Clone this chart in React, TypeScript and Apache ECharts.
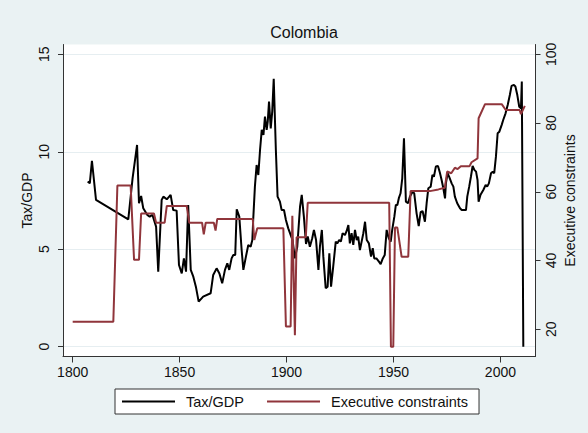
import React, { useEffect, useRef } from "react";
import * as echarts from "echarts";

const taxYears = [
  1807.0, 1808.0, 1809.0, 1810.9, 1826.0, 1828.0, 1830.1, 1831.0, 1832.0, 1833.0,
  1834.9, 1836.0, 1837.3, 1839.0, 1840.0, 1841.6, 1842.4, 1844.0, 1845.8, 1847.0,
  1848.6, 1849.7, 1851.0, 1852.0, 1853.0, 1854.0, 1855.2, 1856.4, 1857.6, 1858.9,
  1861.0, 1864.5, 1865.7, 1867.3, 1868.6, 1869.9, 1871.2, 1872.3, 1873.2, 1874.3,
  1875.1, 1876.0, 1876.7, 1877.9, 1879.0, 1879.8, 1881.0, 1882.1, 1883.2, 1884.0,
  1884.4, 1885.2, 1886.0, 1886.8, 1887.6, 1888.4, 1889.2, 1889.9, 1890.7, 1891.2,
  1891.8, 1892.6, 1893.3, 1894.0, 1895.0, 1895.8, 1896.9, 1897.7, 1898.8, 1899.7,
  1900.8, 1902.8, 1903.9, 1905.0, 1906.3, 1907.1, 1908.1, 1909.1, 1909.9, 1910.9,
  1912.0, 1912.8, 1913.8, 1914.9, 1915.6, 1916.5, 1917.2, 1918.3, 1919.2, 1920.0,
  1920.8, 1921.8, 1923.0, 1923.7, 1924.6, 1925.4, 1926.2, 1927.3, 1928.1, 1928.9,
  1929.6, 1930.4, 1931.2, 1932.0, 1932.8, 1933.5, 1934.3, 1935.1, 1935.9, 1936.7,
  1937.5, 1938.5, 1939.5, 1940.3, 1941.0, 1942.0, 1943.2, 1944.0, 1945.0, 1945.9,
  1946.8, 1947.8, 1948.7, 1949.4, 1950.4, 1951.1, 1951.8, 1952.5, 1953.3, 1954.1,
  1954.9, 1955.8, 1956.8, 1957.7, 1959.0, 1959.7, 1960.8, 1961.8, 1962.7, 1963.6,
  1964.7, 1965.5, 1966.3, 1967.4, 1968.2, 1968.9, 1969.8, 1970.8, 1971.7, 1972.5,
  1973.3, 1974.1, 1974.5, 1975.3, 1976.0, 1977.2, 1978.0, 1978.7, 1979.8, 1981.1,
  1981.9, 1983.0, 1983.9, 1984.5, 1985.4, 1986.2, 1987.0, 1987.8, 1988.6, 1989.3,
  1989.8, 1990.7, 1992.0, 1993.1, 1993.8, 1994.6, 1995.6, 1996.4, 1997.1, 1997.9,
  1998.7, 1999.5, 2000.6, 2001.3, 2002.4, 2003.4, 2004.4, 2005.2, 2006.3, 2007.0,
  2007.9, 2008.8, 2009.6, 2010.0, 2010.7,
];

const taxValues = [
  8.47, 8.38, 9.54, 7.53, 6.53, 8.64, 10.35, 7.36, 7.73, 7.1,
  6.76, 6.67, 6.76, 6.16, 3.85, 7.53, 7.7, 7.56, 7.79, 7.01,
  6.98, 4.19, 3.76, 4.53, 3.85, 7.27, 3.94, 3.59, 3.08, 2.31,
  2.57, 2.74, 3.68, 4.02, 3.76, 3.25, 3.94, 4.28, 3.94, 4.53,
  4.7, 4.7, 7.05, 6.67, 4.96, 3.94, 4.62, 5.22, 5.13, 5.47,
  6.5, 8.21, 9.32, 8.81, 10.09, 11.12, 10.86, 11.8, 11.12, 11.55,
  12.57, 11.2, 12.06, 13.74, 10.09, 7.7, 7.44, 7.01, 7.01, 6.5,
  6.07, 5.47, 4.53, 5.13, 7.18, 7.79, 6.67, 5.27, 5.65, 5.13,
  5.56, 5.99, 5.47, 3.94, 5.13, 5.99, 4.62, 3.0, 3.08, 4.79,
  3.08, 4.1, 5.39, 5.3, 5.47, 5.39, 5.82, 5.73, 5.94, 6.24,
  5.3, 5.82, 5.22, 5.99, 5.47, 5.65, 4.96, 5.39, 5.82, 6.41,
  5.47, 5.3, 4.62, 5.05, 4.53, 4.53, 4.36, 4.24, 4.53, 4.7,
  5.99, 5.56, 5.39, 5.99, 6.67, 7.27, 7.27, 7.62, 7.87, 8.64,
  10.69, 7.44, 7.36, 7.7, 7.96, 7.87, 6.84, 6.19, 6.9, 6.96,
  6.41, 7.36, 8.13, 8.21, 8.81, 8.72, 9.24, 9.27, 8.92, 8.55,
  8.13, 7.61, 8.38, 8.9, 8.72, 8.38, 8.21, 7.7, 7.36, 7.1,
  7.01, 7.01, 7.01, 7.7, 8.21, 8.72, 9.27, 9.07, 8.98, 8.55,
  7.44, 7.79, 8.04, 8.3, 8.21, 8.38, 8.9, 8.98, 8.9, 9.75,
  10.95, 11.03, 11.38, 11.63, 11.97, 12.4, 12.91, 13.38, 13.43, 13.35,
  12.91, 12.31, 12.23, 13.6, 0.0,
];

const xconstYears = [
  1800.0, 1819.0, 1820.9, 1827.1, 1828.7, 1831.0, 1832.0, 1838.0, 1839.0, 1843.0,
  1844.0, 1853.3, 1854.5, 1860.5, 1861.3, 1862.2, 1866.0, 1866.8, 1867.6, 1884.2,
  1884.9, 1886.3, 1898.5, 1899.7, 1901.9, 1902.7, 1903.9, 1904.7, 1909.0, 1909.9,
  1948.0, 1948.8, 1949.9, 1950.7, 1951.8, 1953.8, 1956.9, 1958.0, 1967.0, 1971.0,
  1974.0, 1975.1, 1977.0, 1978.7, 1980.0, 1981.5, 1985.5, 1986.5, 1989.3, 1989.8,
  1992.8, 2000.6, 2002.5, 2009.0, 2009.6, 2011.4,
];

const xconstValues = [
  22.2, 22.2, 61.8, 61.8, 40.2, 40.2, 53.7, 53.7, 51.0, 51.0,
  55.9, 55.9, 51.0, 51.0, 47.6, 51.0, 51.0, 48.7, 52.1, 52.1,
  46.0, 49.4, 49.4, 20.8, 20.8, 53.0, 18.3, 46.8, 46.8, 56.8,
  56.8, 14.9, 14.9, 49.6, 49.6, 41.1, 41.1, 60.2, 60.2, 60.7,
  61.2, 65.9, 65.4, 67.0, 66.6, 67.4, 67.4, 68.6, 69.7, 81.4,
  85.5, 85.5, 83.8, 83.8, 82.6, 85.0,
];

const yearTicks = [1800, 1850, 1900, 1950, 2000];
const taxTicks = [0, 5, 10, 15];
const xconstTicks = [20, 40, 60, 80, 100];

const FONT = "Liberation Sans, Arial, Helvetica, sans-serif";

export default function App() {
  const ref = useRef<HTMLDivElement>(null);

  useEffect(() => {
    if (!ref.current) return;
    const chart = echarts.init(ref.current, undefined, { renderer: "svg" });
    const taxData = taxYears.map((y, i) => [y, taxValues[i]]);
    const xconstData = xconstYears.map((y, i) => [y, xconstValues[i]]);
    const axisColor = "#333";
    chart.setOption({
      animation: false,
      backgroundColor: "#eaf2f3",
      textStyle: { fontFamily: FONT },
      title: {
        text: "Colombia",
        left: 299,
        textAlign: "center",
        top: 19,
        textStyle: { fontFamily: FONT, fontSize: 16, fontWeight: "normal", color: "#111" },
      },
      grid: {
        left: 63,
        right: 52.5,
        top: 44.5,
        bottom: 76.5,
        show: true,
        backgroundColor: "#fff",
        borderWidth: 0,
      },
      legend: {
        left: 115,
        top: 389,
        icon: "rect",
        itemWidth: 53,
        itemHeight: 2,
        itemGap: 23,
        padding: [5, 11, 5, 7],
        backgroundColor: "#fff",
        borderColor: "#333",
        borderWidth: 1,
        borderRadius: 0,
        textStyle: { fontFamily: FONT, fontSize: 14.5, color: "#111", padding: [0, 0, 0, 6] },
        data: ["Tax/GDP", "Executive constraints"],
      },
      xAxis: {
        type: "value",
        min: 1795.47,
        max: 2016.4,
        axisLine: { show: true, onZero: false, lineStyle: { color: axisColor, width: 1 } },
        axisTick: { show: true, length: 6, customValues: yearTicks, lineStyle: { color: axisColor } },
        axisLabel: {
          customValues: yearTicks,
          formatter: (v: number) => String(v),
          fontSize: 14,
          color: "#111",
          margin: 8,
          fontFamily: FONT,
        },
        splitLine: { show: false },
      },
      yAxis: [
        {
          type: "value",
          min: -0.503,
          max: 15.503,
          name: "Tax/GDP",
          nameLocation: "middle",
          nameGap: 36,
          nameMoveOverlap: false,
          nameRotate: 90,
          nameTextStyle: { fontFamily: FONT, fontSize: 14, color: "#111", verticalAlign: "middle" },
          axisLine: { show: true, lineStyle: { color: axisColor, width: 1 } },
          axisTick: { show: true, length: 5, customValues: taxTicks, lineStyle: { color: axisColor } },
          axisLabel: { customValues: taxTicks, rotate: 90, fontSize: 14, color: "#111", margin: 12, fontFamily: FONT },
          splitLine: { show: true, lineStyle: { color: "#e6eef1", width: 1 } },
        },
        {
          type: "value",
          min: 12.09,
          max: 102.85,
          position: "right",
          name: "Executive constraints",
          nameLocation: "middle",
          nameGap: 34.5,
          nameMoveOverlap: false,
          nameRotate: 90,
          nameTextStyle: { fontFamily: FONT, fontSize: 14, color: "#111", verticalAlign: "middle" },
          axisLine: { show: true, lineStyle: { color: axisColor, width: 1 } },
          axisTick: { show: true, length: 5, customValues: xconstTicks, lineStyle: { color: axisColor } },
          axisLabel: { customValues: xconstTicks, rotate: 90, fontSize: 14, color: "#111", margin: 8, fontFamily: FONT },
          splitLine: { show: false },
        },
      ],
      series: [
        {
          name: "Tax/GDP",
          type: "line",
          yAxisIndex: 0,
          data: taxData,
          showSymbol: false,
          symbol: "none",
          color: "#000",
          lineStyle: { color: "#000", width: 2 },
          z: 3,
        },
        {
          name: "Executive constraints",
          type: "line",
          yAxisIndex: 1,
          data: xconstData,
          showSymbol: false,
          symbol: "none",
          color: "#90353b",
          lineStyle: { color: "#90353b", width: 2 },
          z: 4,
        },
      ],
    });
    return () => chart.dispose();
  }, []);

  return (
    <div
      ref={ref}
      style={{ position: "fixed", left: 0, top: 0, width: 588, height: 433 }}
    />
  );
}
